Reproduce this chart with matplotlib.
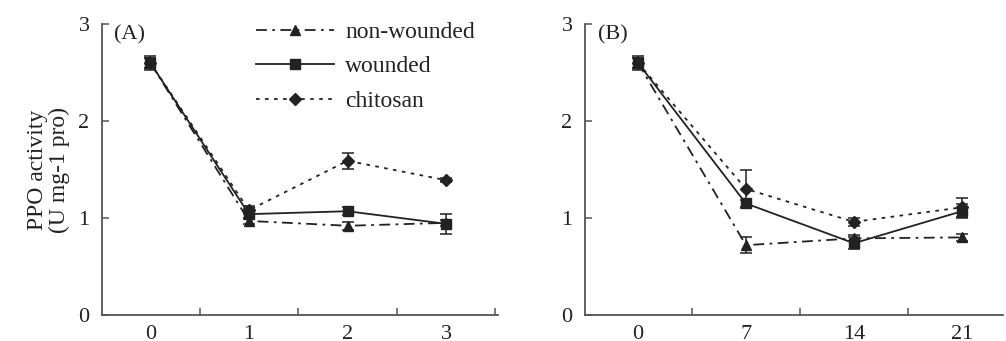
"""PPO activity after wounding / chitosan treatment, panels A and B."""
import matplotlib
matplotlib.use("Agg")
import matplotlib.pyplot as plt

plt.rcParams["font.family"] = ["Liberation Serif", "DejaVu Serif"]
plt.rcParams["font.size"] = 16

# panel A: categories 0..3
days_a = [0, 1, 2, 3]
nonwounded_a = [2.60, 0.97, 0.92, 0.95]
nonwounded_a_err = [0.05, 0.03, 0.04, 0.03]
wounded_a = [2.60, 1.04, 1.07, 0.94]
wounded_a_err = [0.07, 0.05, 0.04, 0.10]
chitosan_a = [2.60, 1.08, 1.59, 1.39]
chitosan_a_err = [0.05, 0.04, 0.08, 0.02]

# panel B: storage days
days_b = [0, 7, 14, 21]
nonwounded_b = [2.60, 0.72, 0.79, 0.80]
nonwounded_b_err = [0.05, 0.08, 0.03, 0.04]
wounded_b = [2.60, 1.15, 0.74, 1.07]
wounded_b_err = [0.07, 0.04, 0.06, 0.07]
chitosan_b = [2.60, 1.30, 0.96, 1.11]
chitosan_b_err = [0.05, 0.20, 0.04, 0.10]

labels = ["non-wounded", "wounded", "chitosan"]
styles = [dict(ls=(0, (6, 3, 1.5, 3)), marker="^"),
          dict(ls="-", marker="s"),
          dict(ls=(0, (2, 3)), marker="D")]
INK = "#222222"


def panel(ax, x, series, errs, tag, xlim, minor):
    for y, e, lab, st in zip(series, errs, labels, styles):
        ax.errorbar(x, y, yerr=e, color=INK, lw=1.3, ls=st["ls"],
                    marker=st["marker"], ms=7 if st["marker"] != "D" else 6,
                    capsize=4, elinewidth=1.1, capthick=1.1, label=lab)
    ax.set_xlim(*xlim)
    ax.set_ylim(0, 3)
    ax.set_xticks(x)
    ax.set_xticks(minor, minor=True)
    ax.set_yticks([0, 1, 2, 3])
    ax.tick_params(axis="x", which="major", length=0, pad=7, colors=INK)
    ax.tick_params(axis="x", which="minor", direction="in", length=5,
                   width=1.1, color="#555555")
    ax.tick_params(axis="y", direction="in", length=5, width=1.1, pad=9,
                   color="#555555", labelcolor=INK)
    for s in ("top", "right"):
        ax.spines[s].set_visible(False)
    for s in ("left", "bottom"):
        ax.spines[s].set_color("#555555")
        ax.spines[s].set_linewidth(1.3)
    ax.text(0.03, 0.995, tag, transform=ax.transAxes, ha="left", va="top",
            fontsize=16, color=INK)


fig = plt.figure(figsize=(10.06, 3.41), dpi=100)
ax_a = fig.add_axes([0.1014, 0.0762, 0.394, 0.8534])
ax_b = fig.add_axes([0.5815, 0.0762, 0.4155, 0.8534])

panel(ax_a, days_a, [nonwounded_a, wounded_a, chitosan_a],
      [nonwounded_a_err, wounded_a_err, chitosan_a_err], "(A)",
      (-0.49, 3.53), [0.5, 1.5, 2.5, 3.5])
panel(ax_b, days_b, [nonwounded_b, wounded_b, chitosan_b],
      [nonwounded_b_err, wounded_b_err, chitosan_b_err], "(B)",
      (-3.43, 23.66), [3.5, 10.5, 17.5])

ax_a.set_ylabel("PPO activity\n(U mg-1 pro)", fontsize=17, color=INK,
                labelpad=6, linespacing=1.05)

handles, labs = ax_a.get_legend_handles_labels()
handles = [h[0] for h in handles]
ax_a.legend(handles, labs, loc="upper left", bbox_to_anchor=(0.336, 1.082),
            frameon=False, handlelength=3.3, handletextpad=0.45,
            labelspacing=0.55, numpoints=1, fontsize=17, labelcolor=INK)

fig.savefig("out.png", dpi=100)
